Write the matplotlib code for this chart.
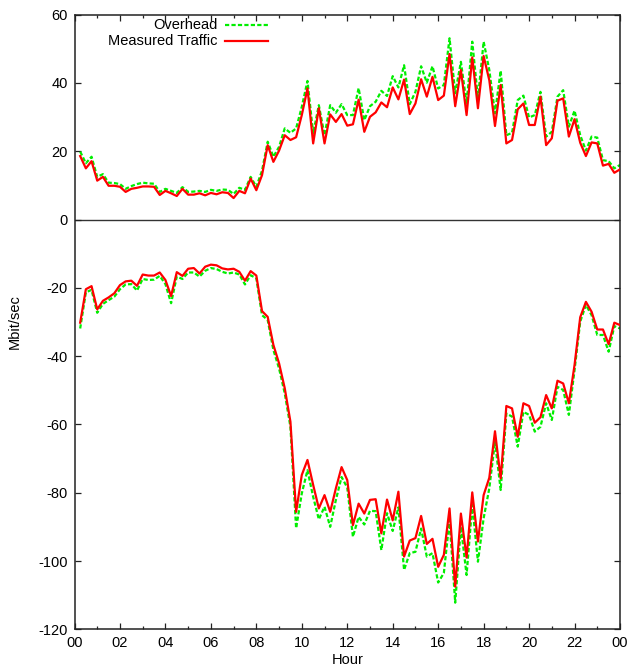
import numpy as np
import matplotlib
matplotlib.use("Agg")
import matplotlib.pyplot as plt
from matplotlib.ticker import MultipleLocator

plt.rcParams['font.family'] = ['Liberation Sans', 'DejaVu Sans']
plt.rcParams['axes.unicode_minus'] = False

# 15-minute samples, hour of day at the end of each interval
hours = np.arange(1, 97) / 4.0

# Incoming direction (positive)
traffic_in = [18.6, 15.0, 17.1, 11.4, 12.5, 9.9, 9.9, 9.6, 8.1, 9.0, 9.3, 9.7, 9.7, 9.6, 7.2, 8.4,
              7.7, 6.9, 9.0, 7.3, 7.3, 7.7, 7.1, 7.8, 7.4, 8.0, 7.8, 6.3, 8.4, 7.7, 12.0, 8.6,
              13.0, 21.8, 16.9, 20.2, 24.7, 23.3, 24.1, 30.6, 38.4, 22.3, 32.6, 22.3, 30.8, 28.6,
              30.9, 27.5, 27.9, 35.1, 25.7, 30.1, 31.4, 34.3, 32.9, 38.7, 35.2, 41.0, 30.9, 34.0,
              41.1, 36.0, 41.8, 35.0, 36.3, 48.5, 33.2, 43.8, 30.6, 47.5, 32.6, 47.9, 40.8, 27.4,
              39.4, 22.3, 23.3, 32.3, 34.0, 27.7, 27.7, 36.0, 21.8, 23.8, 34.8, 35.5, 24.3, 29.4,
              22.5, 18.6, 22.6, 22.3, 15.8, 16.3, 13.7, 14.7]
overhead_in = [19.9, 16.5, 18.4, 12.5, 13.3, 10.8, 10.7, 10.4, 9.0, 9.8, 10.4, 10.8, 10.6, 10.5, 8.1, 9.0,
               8.4, 7.8, 9.5, 8.1, 8.2, 8.4, 8.1, 8.7, 8.4, 8.8, 8.7, 7.5, 9.3, 8.7, 12.5, 9.6,
               14.3, 22.8, 18.4, 21.3, 26.7, 25.4, 26.7, 33.0, 40.6, 25.2, 33.5, 24.7, 33.5, 31.3,
               33.8, 30.6, 30.6, 38.5, 29.1, 33.2, 34.5, 37.7, 36.2, 42.0, 38.7, 45.2, 33.8, 37.4,
               44.9, 40.1, 44.9, 38.4, 39.4, 53.1, 37.0, 46.2, 34.0, 52.1, 35.5, 52.1, 43.8, 31.1,
               43.6, 24.7, 25.4, 35.0, 36.3, 29.9, 30.6, 37.4, 24.3, 25.7, 36.0, 37.9, 27.2, 31.9,
               24.7, 20.2, 24.3, 24.0, 17.4, 17.1, 15.0, 16.0]

# Outgoing direction (negative)
traffic_out = [-30.2, -20.4, -19.5, -26.3, -23.8, -22.8, -21.6, -19.2, -18.1, -17.9, -19.4, -16.1,
               -16.4, -16.4, -15.5, -17.7, -22.4, -15.4, -16.5, -14.4, -14.2, -15.8, -13.8, -13.2,
               -13.4, -14.3, -14.6, -14.4, -15.3, -17.9, -15.1, -16.4, -26.8, -28.5, -36.7, -42.1,
               -49.4, -59.2, -85.6, -74.8, -70.4, -77.7, -84.6, -80.7, -85.6, -78.7, -72.5, -76.3,
               -89.5, -83.2, -86.1, -82.1, -81.9, -91.9, -82.0, -88.1, -79.7, -98.7, -94.0, -93.3,
               -86.8, -95.0, -93.5, -101.7, -98.2, -84.6, -107.5, -86.1, -99.0, -79.9, -94.3, -80.7,
               -75.6, -62.0, -75.8, -54.6, -55.3, -63.6, -53.8, -54.6, -59.5, -57.9, -51.4, -55.3,
               -47.2, -48.0, -53.8, -42.6, -28.6, -24.1, -27.0, -32.2, -32.2, -36.5, -30.2, -30.9]
overhead_out = [-31.9, -21.3, -20.6, -27.3, -24.7, -23.6, -22.6, -20.4, -19.0, -18.9, -20.8, -17.4,
                -17.7, -17.6, -16.5, -18.9, -24.5, -16.7, -17.4, -15.5, -15.5, -16.7, -15.0, -14.2,
                -14.5, -15.3, -15.8, -15.5, -16.1, -19.0, -16.3, -17.2, -28.0, -29.4, -38.2, -43.6,
                -50.9, -60.7, -90.4, -80.2, -73.4, -81.2, -87.8, -84.1, -90.0, -82.1, -75.4, -78.5,
                -92.9, -87.1, -89.3, -85.3, -85.4, -96.8, -86.0, -91.2, -84.3, -102.6, -97.7, -97.3,
                -90.5, -98.7, -97.7, -106.3, -103.5, -88.0, -112.2, -90.0, -104.1, -83.6, -100.2, -87.5,
                -78.7, -65.0, -79.2, -56.8, -57.7, -66.5, -56.3, -57.2, -62.1, -60.7, -53.8, -58.7,
                -49.0, -49.9, -57.2, -44.1, -29.9, -25.0, -28.0, -33.8, -33.8, -38.7, -31.2, -31.9]

x_ticks = np.arange(0, 25, 2)
x_tick_labels = ["00", "02", "04", "06", "08", "10", "12", "14", "16", "18", "20", "22", "00"]
y_ticks = np.arange(-120, 61, 20)
y_tick_labels = [str(v) for v in y_ticks]

series_names = ["Overhead", "Measured Traffic"]

RED = "#ff0000"
GREEN = "#00ee00"
LW = 1.6
DASH = (0, (1.9, 1.0))

fig = plt.figure(figsize=(6.3, 6.71), dpi=100)
ax = fig.add_axes([74.5 / 630, 1 - 629.3 / 671, 545.5 / 630, 614.6 / 671])

# zero axis
ax.axhline(0, color="#333333", lw=1.0, zorder=1)

for seg in (overhead_in, overhead_out):
    ax.plot(hours, seg, color=GREEN, lw=LW, linestyle=DASH, zorder=2)
for seg in (traffic_in, traffic_out):
    ax.plot(hours, seg, color=RED, lw=LW, zorder=3)

ax.set_xlim(0, 24)
ax.set_ylim(-120, 60)
ax.set_xticks(x_ticks)
ax.set_xticklabels(x_tick_labels)
ax.xaxis.set_minor_locator(MultipleLocator(1))
ax.set_yticks(y_ticks)
ax.set_yticklabels(y_tick_labels)

ax.tick_params(which="both", direction="in", top=True, right=True, labelsize=10.5,
               color="#222222", width=0.9)
ax.tick_params(which="major", length=4.5)
ax.tick_params(axis="x", which="major", pad=5)
ax.tick_params(axis="y", which="major", pad=5)
ax.tick_params(which="minor", length=2.5)
for sp in ax.spines.values():
    sp.set_linewidth(1.1)
    sp.set_color("#222222")

ax.set_xlabel("Hour", fontsize=10.5, labelpad=2)
ax.set_ylabel("Mbit/sec", fontsize=10.5, labelpad=12)

# key in the upper left corner: label right-aligned, sample to its right
key_styles = [dict(color=GREEN, lw=LW, linestyle=DASH), dict(color=RED, lw=LW)]
key_rows = [0.9834, 0.9565]
for name, style, yk in zip(series_names, key_styles, key_rows):
    ax.text(0.263, yk, name, transform=ax.transAxes, ha="right", va="center", fontsize=10.5)
    ax.plot([0.276, 0.355], [yk, yk], transform=ax.transAxes, **style)

fig.savefig("out.png", dpi=100)
